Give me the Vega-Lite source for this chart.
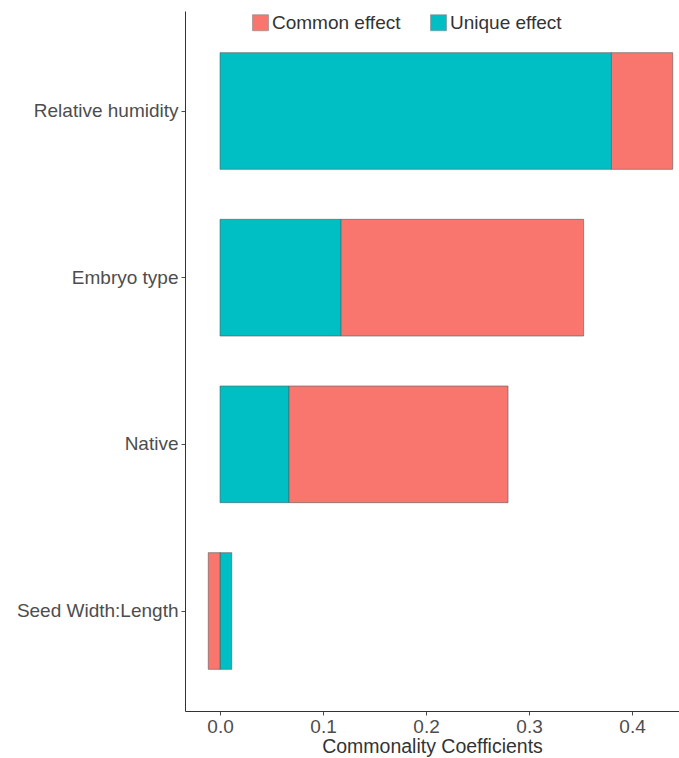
{
  "$schema": "https://vega.github.io/schema/vega-lite/v6.json",
  "autosize": {"type": "none"},
  "padding": {"left": 185, "top": 11, "right": 0, "bottom": 47},
  "width": 494,
  "height": 700,
  "background": "white",
  "config": {
    "view": {"stroke": null},
    "font": "Liberation Sans"
  },
  "data": {
    "values": [
      {"variable": "Relative humidity", "type": "Unique effect", "value": 0.380},
      {"variable": "Relative humidity", "type": "Common effect", "value": 0.0595},
      {"variable": "Embryo type", "type": "Unique effect", "value": 0.1175},
      {"variable": "Embryo type", "type": "Common effect", "value": 0.2355},
      {"variable": "Native", "type": "Unique effect", "value": 0.067},
      {"variable": "Native", "type": "Common effect", "value": 0.2126},
      {"variable": "Seed Width:Length", "type": "Unique effect", "value": 0.0114},
      {"variable": "Seed Width:Length", "type": "Common effect", "value": -0.0114}
    ]
  },
  "mark": {"type": "bar", "stroke": "#595959", "strokeWidth": 0.6},
  "encoding": {
    "y": {
      "field": "variable",
      "type": "nominal",
      "sort": ["Relative humidity", "Embryo type", "Native", "Seed Width:Length"],
      "scale": {"paddingInner": 0.3, "paddingOuter": 0.25},
      "axis": {
        "title": null,
        "labelFontSize": 19,
        "labelColor": "#4D4D4D",
        "labelPadding": 3,
        "tickSize": 4,
        "tickColor": "#4D4D4D",
        "domainColor": "#333333",
        "domainWidth": 1,
        "labelLimit": 400
      }
    },
    "x": {
      "field": "value",
      "type": "quantitative",
      "stack": "zero",
      "scale": {"domain": [-0.034, 0.4456], "nice": false, "zero": false},
      "axis": {
        "title": "Commonality Coefficients",
        "titleFontSize": 19.5,
        "titleFontWeight": "normal",
        "titleColor": "#333333",
        "titlePadding": 1,
        "values": [0, 0.1, 0.2, 0.3, 0.4],
        "format": ".1f",
        "grid": false,
        "labelFontSize": 19,
        "labelColor": "#4D4D4D",
        "labelPadding": 2,
        "tickSize": 4,
        "tickColor": "#4D4D4D",
        "domainColor": "#333333",
        "domainWidth": 1
      }
    },
    "color": {
      "field": "type",
      "type": "nominal",
      "scale": {"domain": ["Common effect", "Unique effect"], "range": ["#F8766D", "#00BFC4"]},
      "legend": {
        "title": null,
        "orient": "none",
        "direction": "horizontal",
        "legendX": 66,
        "legendY": 2,
        "symbolType": "square",
        "symbolSize": 256,
        "symbolStrokeColor": "#888888",
        "symbolStrokeWidth": 0.6,
        "labelFontSize": 19,
        "labelColor": "#333333",
        "labelOffset": 2,
        "columnPadding": 28,
        "labelLimit": 300
      }
    },
    "order": {"field": "type", "sort": "descending"}
  }
}
